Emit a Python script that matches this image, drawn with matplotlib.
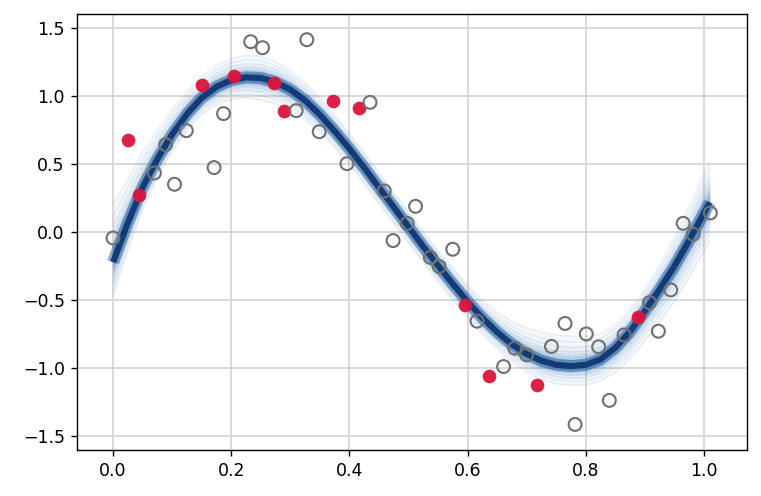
import numpy as np
import matplotlib
matplotlib.use('Agg')
import matplotlib.pyplot as plt


# observed (training) points
x_train = [0.026, 0.044, 0.151, 0.204, 0.272, 0.290, 0.372, 0.417,
           0.596, 0.636, 0.717, 0.888]
y_train = [0.676, 0.274, 1.083, 1.147, 1.098, 0.890, 0.968, 0.917,
           -0.537, -1.059, -1.127, -0.625]

# held-out points
x_test = [0.000, 0.070, 0.089, 0.104, 0.124, 0.171, 0.187, 0.233, 0.253,
          0.310, 0.328, 0.349, 0.396, 0.435, 0.459, 0.474, 0.498, 0.512,
          0.537, 0.552, 0.575, 0.616, 0.661, 0.680, 0.700, 0.742, 0.765,
          0.782, 0.801, 0.822, 0.840, 0.865, 0.908, 0.923, 0.944, 0.965,
          0.982, 1.011]
y_test = [-0.042, 0.436, 0.645, 0.353, 0.748, 0.476, 0.873, 1.402, 1.358,
          0.895, 1.417, 0.740, 0.505, 0.956, 0.304, -0.061, 0.066, 0.191,
          -0.185, -0.252, -0.125, -0.654, -0.988, -0.853, -0.902, -0.840,
          -0.671, -1.414, -0.748, -0.843, -1.237, -0.755, -0.517, -0.728,
          -0.424, 0.066, -0.015, 0.142]

# posterior curve: centre and spread of the sampled fits
x_curve = [0.000, 0.025, 0.050, 0.075, 0.100, 0.125, 0.150, 0.175, 0.200,
           0.225, 0.250, 0.275, 0.300, 0.325, 0.350, 0.375, 0.400, 0.425,
           0.450, 0.475, 0.500, 0.525, 0.550, 0.575, 0.600, 0.625, 0.650,
           0.675, 0.700, 0.725, 0.750, 0.775, 0.800, 0.825, 0.850, 0.875,
           0.900, 0.925, 0.950, 0.975, 1.000, 1.010]
y_mean = [-0.22, 0.07, 0.33, 0.54, 0.72, 0.87, 0.99, 1.07, 1.12,
          1.14, 1.135, 1.105, 1.05, 0.97, 0.865, 0.745, 0.615, 0.475,
          0.33, 0.185, 0.04, -0.105, -0.245, -0.38, -0.51, -0.63, -0.735,
          -0.825, -0.895, -0.945, -0.975, -0.985, -0.975, -0.935, -0.85, -0.73,
          -0.58, -0.42, -0.25, -0.06, 0.14, 0.22]
spread_hi = [0.42, 0.32, 0.26, 0.21, 0.18, 0.17, 0.16, 0.16, 0.16,
             0.16, 0.16, 0.15, 0.14, 0.13, 0.12, 0.12, 0.11, 0.11,
             0.11, 0.11, 0.11, 0.11, 0.11, 0.12, 0.12, 0.13, 0.15,
             0.17, 0.19, 0.21, 0.22, 0.22, 0.21, 0.19, 0.17, 0.16,
             0.16, 0.18, 0.21, 0.25, 0.29, 0.30]
spread_lo = [0.25, 0.20, 0.16, 0.13, 0.12, 0.12, 0.12, 0.13, 0.14,
             0.15, 0.16, 0.16, 0.15, 0.14, 0.13, 0.12, 0.12, 0.12,
             0.12, 0.12, 0.12, 0.12, 0.12, 0.12, 0.12, 0.12, 0.12,
             0.13, 0.13, 0.14, 0.14, 0.14, 0.15, 0.16, 0.18, 0.20,
             0.22, 0.24, 0.26, 0.27, 0.28, 0.29]

# where the individual sample lines sit inside the spread
sample_pos = [-1.0, -0.8, -0.62, -0.48, -0.36, -0.27, -0.2, -0.14, -0.09,
              -0.05, -0.02, 0.02, 0.05, 0.09, 0.14, 0.2, 0.27, 0.36, 0.48,
              0.62, 0.8, 1.0]

xc = np.array(x_curve)
ym = np.array(y_mean)
hi = np.array(spread_hi)
lo = np.array(spread_lo)

fig = plt.figure(figsize=(761/125, 496/125), dpi=125)
ax = fig.add_axes([77/761, 1 - 450/496, 670/761, 436/496])

ax.grid(True, color='#d5d5d5', lw=1)
ax.set_axisbelow(True)

# shaded density of samples, lighter towards the edge
for f, a in [(1.0, 0.04), (0.7, 0.05), (0.5, 0.08), (0.35, 0.12), (0.22, 0.18)]:
    ax.fill_between(xc, ym - f*lo, ym + f*hi, color='#2b6cb0', alpha=a, lw=0, zorder=2)

for w in sample_pos:
    off = w*hi if w > 0 else w*lo
    ax.plot(xc, ym + off, color='#3a78c0', alpha=0.1, lw=1, zorder=2)

ax.plot(xc, ym, color='#1f5a9e', lw=7, alpha=0.5, solid_capstyle='butt', zorder=2)
ax.plot(xc, ym, color='#08306b', lw=3.5, alpha=0.85, solid_capstyle='butt', zorder=2)

ax.scatter(x_train, y_train, s=62, color='crimson', alpha=0.95, lw=0, zorder=3)
ax.scatter(x_test, y_test, s=55, facecolors='none', edgecolors='#707070', lw=1.2, zorder=4)

ax.set_xlim(-0.061, 1.073)
ax.set_ylim(-1.602, 1.606)
ax.set_xticks([0.0, 0.2, 0.4, 0.6, 0.8, 1.0])
ax.set_yticks([-1.5, -1.0, -0.5, 0.0, 0.5, 1.0, 1.5])
ax.tick_params(labelsize=10)

plt.savefig('out.png', dpi=125)
